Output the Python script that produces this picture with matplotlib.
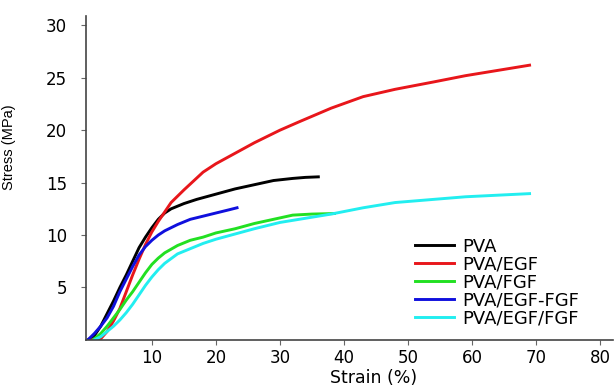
import matplotlib
matplotlib.use("Agg")
import matplotlib.pyplot as plt

# stress-strain curves
pva_strain = [0, 1, 2, 3, 4, 5, 6, 7, 8, 9, 10, 11, 12, 13, 15, 17, 20, 23, 26, 29, 32, 34, 36]
pva_stress = [0, 0.4, 1.3, 2.5, 3.7, 5.0, 6.2, 7.5, 8.8, 9.8, 10.7, 11.5, 12.1, 12.5, 13.0, 13.4, 13.9, 14.4, 14.8, 15.2, 15.4, 15.5, 15.55]

egf_strain = [0.5, 2, 3, 4, 5, 6, 7, 8, 9, 10, 11, 12, 13, 15, 18, 20, 23, 26, 30, 33, 38, 43, 48, 54, 59, 64, 69]
egf_stress = [0, 0.1, 0.8, 1.8, 3.0, 4.6, 6.2, 7.7, 9.1, 10.3, 11.3, 12.2, 13.1, 14.3, 16.0, 16.8, 17.8, 18.8, 20.0, 20.8, 22.1, 23.2, 23.9, 24.6, 25.2, 25.7, 26.2]

fgf_strain = [0.8, 2, 3, 4, 5, 6, 7, 8, 9, 10, 11, 12, 14, 16, 18, 20, 23, 26, 29, 32, 35, 38.5]
fgf_stress = [0, 0.6, 1.3, 2.1, 2.9, 3.8, 4.6, 5.5, 6.4, 7.2, 7.8, 8.3, 9.0, 9.5, 9.8, 10.2, 10.6, 11.1, 11.5, 11.9, 12.0, 12.05]

egf_fgf_strain = [0, 1, 2, 3, 4, 5, 6, 7, 8, 9, 10, 11, 12, 14, 16, 18, 20, 22, 23.3]
egf_fgf_stress = [0, 0.6, 1.3, 2.1, 3.2, 4.6, 5.8, 7.0, 8.1, 8.9, 9.5, 10.0, 10.4, 11.0, 11.5, 11.8, 12.1, 12.4, 12.6]

egf_fgf2_strain = [1, 2, 3, 4, 5, 6, 7, 8, 9, 10, 11, 12, 14, 16, 18, 20, 23, 26, 30, 34, 38, 43, 48, 54, 59, 64, 69]
egf_fgf2_stress = [0, 0.3, 0.8, 1.3, 1.9, 2.6, 3.4, 4.3, 5.2, 6.0, 6.7, 7.3, 8.2, 8.7, 9.2, 9.6, 10.1, 10.6, 11.2, 11.6, 12.0, 12.6, 13.1, 13.4, 13.65, 13.8, 13.95]

labels = ["PVA", "PVA/EGF", "PVA/FGF", "PVA/EGF-FGF", "PVA/EGF/FGF"]
x_ticks = [10, 20, 30, 40, 50, 60, 70, 80]
y_ticks = [5, 10, 15, 20, 25, 30]

plt.rcParams['font.family'] = ['DejaVu Sans']

fig = plt.figure(figsize=(6.14, 3.88), dpi=100)
ax = fig.add_axes([0.140, 0.124, 0.858, 0.835])

series = [(pva_strain, pva_stress, "black"),
          (egf_strain, egf_stress, "#e8161b"),
          (fgf_strain, fgf_stress, "#22e022"),
          (egf_fgf_strain, egf_fgf_stress, "#1010dd"),
          (egf_fgf2_strain, egf_fgf2_stress, "#22eef0")]
for (x, y, c), lab in zip(series, labels):
    ax.plot(x, y, color=c, lw=2.1, label=lab)

ax.set_xlim(-0.3, 82)
ax.set_ylim(0, 30.9)
ax.set_xticks(x_ticks)
ax.set_yticks(y_ticks)
ax.tick_params(labelsize=12, length=3.5, color="#666666")
ax.tick_params(axis="y", pad=10)
ax.tick_params(axis="x", pad=3)
for s in ["top", "right"]:
    ax.spines[s].set_visible(False)
for s in ["left", "bottom"]:
    ax.spines[s].set_color("#444444")
    ax.spines[s].set_linewidth(1.2)

ax.set_xlabel("Strain (%)", fontsize=12.5)
ax.xaxis.set_label_coords(0.545, -0.09)
ax.set_ylabel("Stress (MPa)", fontsize=10.5, family=["Liberation Sans", "DejaVu Sans"])
ax.yaxis.set_label_coords(-0.133, 0.596)

ax.legend(loc="upper left", bbox_to_anchor=(0.624, 0.316), frameon=False,
          fontsize=13, handlelength=2.2, handletextpad=0.44,
          labelspacing=0, borderpad=0, borderaxespad=0)

plt.savefig("out.png", dpi=100)
